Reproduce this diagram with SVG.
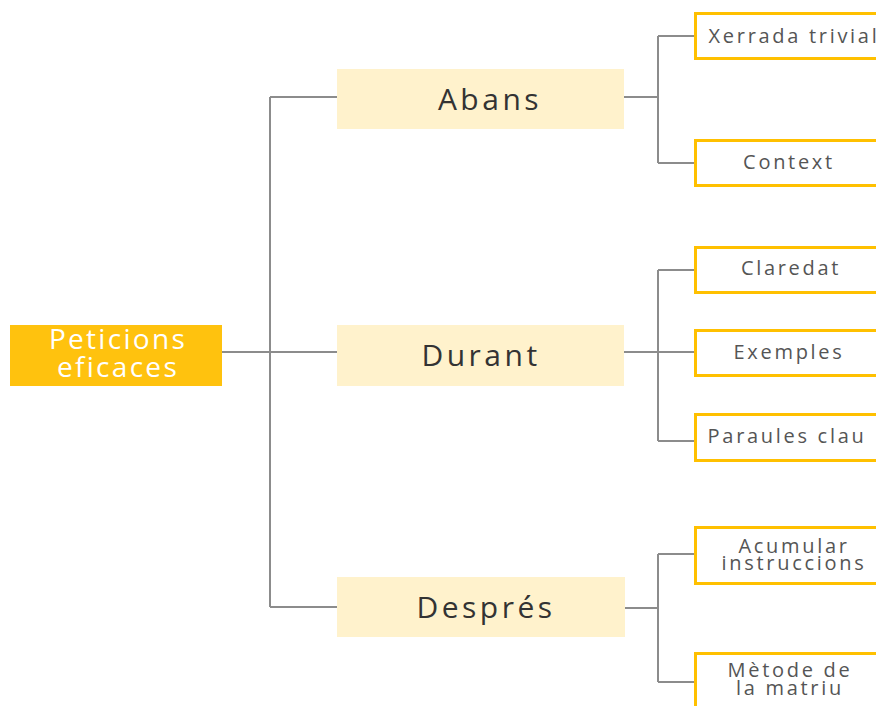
<svg xmlns="http://www.w3.org/2000/svg" width="876" height="706" viewBox="0 0 876 706">
<style>
.conn{fill:none;stroke:#8c8c8c;stroke-width:2}
.root{fill:#ffc20e}
.mid{fill:#fff2cc}
.leaf{fill:#fff;stroke:#ffc000;stroke-width:3}
text{font-family:"Open Sans","Liberation Sans",sans-serif;text-anchor:middle}
.rt{fill:#fff;font-size:28px;letter-spacing:2.3px}
.mt{fill:#333;font-size:30px;letter-spacing:3.5px}
.lt{fill:#555;font-size:20px;letter-spacing:2.7px}
</style>
<rect width="876" height="706" fill="#fff"/>
<g id="connectors">
<path class="conn" d="M222 352H270M270 97V607M270 97H337M270 352H337M270 607H337"/>
<path class="conn" d="M624 97H658M658 36V163M658 36H695M658 163H695"/>
<path class="conn" d="M624 352H658M658 270V441M658 270H695M658 352H695M658 441H695"/>
<path class="conn" d="M624 608H658M658 554V682M658 554H695M658 682H695"/>
</g>
<g id="root"><rect class="root" x="10" y="325" width="212" height="61"/><text class="rt" x="118" y="349">Peticions</text><text class="rt" x="118" y="377">eficaces</text></g>
<g id="abans"><rect class="mid" x="337" y="69" width="287" height="60"/><text class="mt" x="490" y="110">Abans</text></g>
<g id="durant"><rect class="mid" x="337" y="325" width="287" height="61"/><text class="mt" x="481" y="366">Durant</text></g>
<g id="despres"><rect class="mid" x="337" y="577" width="288" height="60"/><text class="mt" x="486" y="618">Després</text></g>
<g id="xerrada"><rect class="leaf" x="695.5" y="13.5" width="195" height="45"/><text class="lt" x="794" y="43">Xerrada trivial</text></g>
<g id="context"><rect class="leaf" x="695.5" y="140.5" width="195" height="45"/><text class="lt" x="789" y="169">Context</text></g>
<g id="claredat"><rect class="leaf" x="695.5" y="247.5" width="195" height="45"/><text class="lt" x="791" y="275">Claredat</text></g>
<g id="exemples"><rect class="leaf" x="695.5" y="330.5" width="195" height="45"/><text class="lt" x="789" y="359">Exemples</text></g>
<g id="paraules"><rect class="leaf" x="695.5" y="414.5" width="195" height="46"/><text class="lt" x="787" y="443">Paraules clau</text></g>
<g id="acumular"><rect class="leaf" x="695.5" y="527.5" width="195" height="56"/><text class="lt" x="794" y="553">Acumular</text><text class="lt" x="794" y="570">instruccions</text></g>
<g id="metode"><rect class="leaf" x="695.5" y="653.5" width="195" height="60"/><text class="lt" x="790" y="677">Mètode de</text><text class="lt" x="790" y="695">la matriu</text></g>
</svg>
